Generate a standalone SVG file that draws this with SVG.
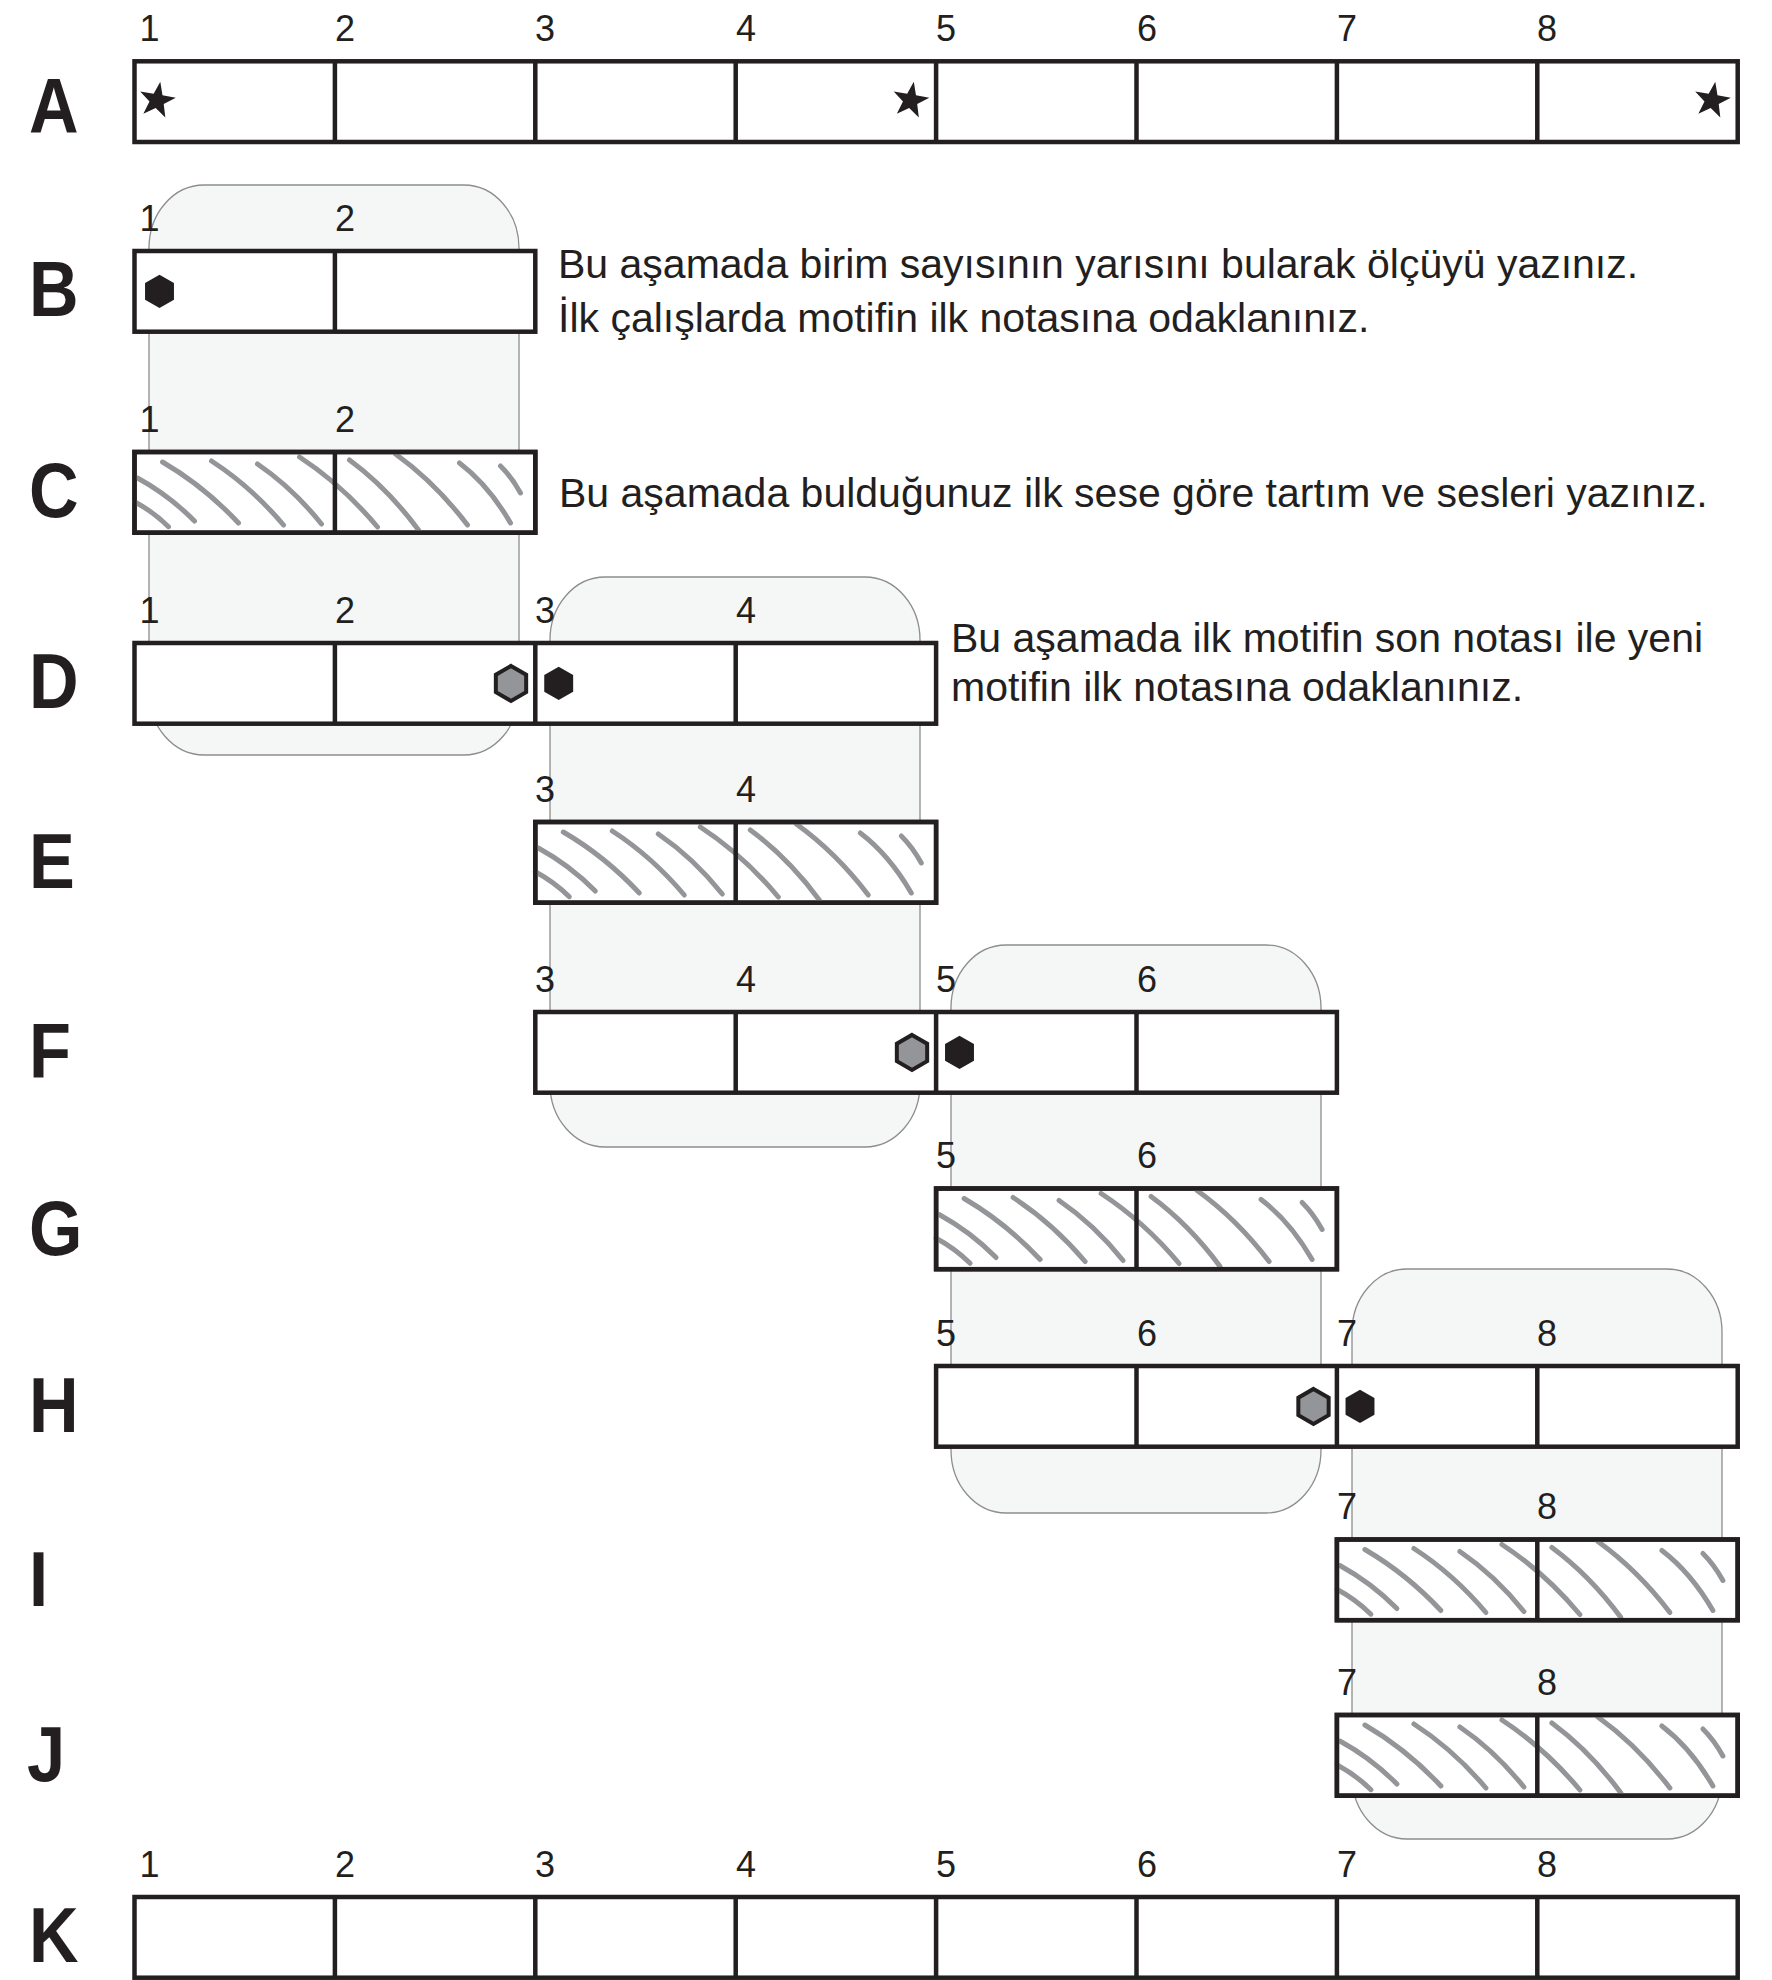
<svg xmlns="http://www.w3.org/2000/svg" width="1772" height="1980" viewBox="0 0 1772 1980">
<style>
.bar{fill:#ffffff;stroke:#231f20;stroke-width:4.5}
.div{stroke:#231f20;stroke-width:4.5}
.zone{fill:#f5f7f6;stroke:#8d8d8d;stroke-width:1.3}
.row{font-family:"Liberation Sans",Arial,sans-serif;font-weight:bold;font-size:78px;fill:#231f20}
.num{font-family:"Liberation Sans",Arial,sans-serif;font-size:36px;fill:#231f20}
.txt{font-family:"Liberation Sans",Arial,sans-serif;font-size:41px;fill:#231f20}
.hat{fill:none;stroke:#939598;stroke-width:5;stroke-linecap:round}
.hexb{fill:#231f20}
.hexg{fill:#939598;stroke:#231f20;stroke-width:4}
.star{fill:#231f20}
</style>
<defs>
<g id="hatch" class="hat">
<path d="M0 49.7 Q18.7 59.7 34 74.7"/>
<path d="M3 26 Q34.4 43.2 60 69"/>
<path d="M28 10 Q69.8 34.4 104 71"/>
<path d="M77 9 Q116.6 34.6 149 73"/>
<path d="M123 12 Q158.2 36 187 72"/>
<path d="M165 5 Q207.9 33 243 75"/>
<path d="M215 8 Q253 36 284 78"/>
<path d="M261 2 Q300.6 30.4 333 73"/>
<path d="M325 11 Q354 33 376 71"/>
<path d="M366 14 Q377 24.8 386 41"/>
</g>
<path id="star" class="star" d="M3.30 -18.71 L5.47 -5.28 L18.82 -2.64 L6.71 3.57 L8.33 17.08 L-1.32 7.48 L-13.67 13.20 L-7.53 1.06 L-16.78 -8.92 L-3.33 -6.83 Z"/>
<path id="hexb" class="hexb" d="M0 -16.7 L14.46 -8.35 L14.46 8.35 L0 16.7 L-14.46 8.35 L-14.46 -8.35 Z"/>
<path id="hexg" class="hexg" d="M0 -17.5 L15.16 -8.75 L15.16 8.75 L0 17.5 L-15.16 8.75 L-15.16 -8.75 Z"/>
</defs>
<rect width="1772" height="1980" fill="#ffffff"/>

<g id="zone-1-2"><rect class="zone" x="149" y="185" width="370" height="570" rx="55" ry="63"/></g>
<g id="zone-3-4"><rect class="zone" x="550" y="577" width="370" height="570" rx="55" ry="63"/></g>
<g id="zone-5-6"><rect class="zone" x="951" y="945" width="370" height="568" rx="55" ry="63"/></g>
<g id="zone-7-8"><rect class="zone" x="1352" y="1269" width="370" height="570" rx="55" ry="63"/></g>

<g id="connectors"></g>

<g id="row-A">
<text class="row" transform="translate(29 133) scale(0.88 1)">A</text>
<text class="num" x="139.5" y="41">1</text><text class="num" x="335" y="41">2</text><text class="num" x="535" y="41">3</text><text class="num" x="736" y="41">4</text><text class="num" x="936" y="41">5</text><text class="num" x="1137" y="41">6</text><text class="num" x="1337" y="41">7</text><text class="num" x="1537" y="41">8</text>
<rect class="bar" x="134.5" y="61.3" width="1603.2" height="80.7"/>
<path class="div" d="M334.9 61.3V142M535.3 61.3V142M735.7 61.3V142M936.1 61.3V142M1136.5 61.3V142M1336.9 61.3V142M1537.3 61.3V142"/>
<use href="#star" x="157" y="100.5"/>
<use href="#star" x="910.5" y="100.5"/>
<use href="#star" x="1712" y="100.5"/>
</g>

<g id="row-B">
<text class="row" transform="translate(29 316) scale(0.88 1)">B</text>
<text class="num" x="139.5" y="231">1</text><text class="num" x="335" y="231">2</text>
<rect class="bar" x="134.5" y="251" width="400.8" height="80.7"/>
<path class="div" d="M334.9 251V331.7"/>
<use href="#hexb" x="159.5" y="291.4"/>
<text class="txt" x="558" y="278">Bu aşamada birim sayısının yarısını bularak ölçüyü yazınız.</text>
<text class="txt" x="558" y="332">İlk çalışlarda motifin ilk notasına odaklanınız.</text>
</g>

<g id="row-C">
<text class="row" transform="translate(29 517) scale(0.88 1)">C</text>
<text class="num" x="139.5" y="432">1</text><text class="num" x="335" y="432">2</text>
<rect class="bar" x="134.5" y="452" width="400.8" height="80.7"/>
<use href="#hatch" x="134.5" y="452"/>
<path class="div" d="M334.9 452V532.7"/>
<rect x="134.5" y="452" width="400.8" height="80.7" fill="none" stroke="#231f20" stroke-width="4.5"/>
<text class="txt" x="559" y="507">Bu aşamada bulduğunuz ilk sese göre tartım ve sesleri yazınız.</text>
</g>

<g id="row-D">
<text class="row" transform="translate(29 708) scale(0.88 1)">D</text>
<text class="num" x="139.5" y="623">1</text><text class="num" x="335" y="623">2</text><text class="num" x="535" y="623">3</text><text class="num" x="736" y="623">4</text>
<rect class="bar" x="134.5" y="643" width="801.6" height="80.7"/>
<path class="div" d="M334.9 643V723.7M535.3 643V723.7M735.7 643V723.7"/>
<use href="#hexg" x="511" y="683.4"/>
<use href="#hexb" x="558.7" y="683.4"/>
<text class="txt" x="951" y="652">Bu aşamada ilk motifin son notası ile yeni</text>
<text class="txt" x="951" y="701">motifin ilk notasına odaklanınız.</text>
</g>

<g id="row-E">
<text class="row" transform="translate(29 888) scale(0.88 1)">E</text>
<text class="num" x="535" y="802">3</text><text class="num" x="736" y="802">4</text>
<rect class="bar" x="535.3" y="822" width="400.8" height="80.7"/>
<use href="#hatch" x="535.3" y="822"/>
<path class="div" d="M735.7 822V902.7"/>
<rect x="535.3" y="822" width="400.8" height="80.7" fill="none" stroke="#231f20" stroke-width="4.5"/>
</g>

<g id="row-F">
<text class="row" transform="translate(29 1078) scale(0.88 1)">F</text>
<text class="num" x="535" y="992">3</text><text class="num" x="736" y="992">4</text><text class="num" x="936" y="992">5</text><text class="num" x="1137" y="992">6</text>
<rect class="bar" x="535.3" y="1012" width="801.6" height="80.7"/>
<path class="div" d="M735.7 1012V1092.7M936.1 1012V1092.7M1136.5 1012V1092.7"/>
<use href="#hexg" x="912" y="1052.4"/>
<use href="#hexb" x="959.5" y="1052.4"/>
</g>

<g id="row-G">
<text class="row" transform="translate(29 1255) scale(0.88 1)">G</text>
<text class="num" x="936" y="1168">5</text><text class="num" x="1137" y="1168">6</text>
<rect class="bar" x="936.1" y="1188.5" width="400.8" height="80.7"/>
<use href="#hatch" x="936.1" y="1188.5"/>
<path class="div" d="M1136.5 1188.5V1269.2"/>
<rect x="936.1" y="1188.5" width="400.8" height="80.7" fill="none" stroke="#231f20" stroke-width="4.5"/>
</g>

<g id="row-H">
<text class="row" transform="translate(29 1432) scale(0.88 1)">H</text>
<text class="num" x="936" y="1346">5</text><text class="num" x="1137" y="1346">6</text><text class="num" x="1337" y="1346">7</text><text class="num" x="1537" y="1346">8</text>
<rect class="bar" x="936.1" y="1366" width="801.6" height="80.7"/>
<path class="div" d="M1136.5 1366V1446.7M1336.9 1366V1446.7M1537.3 1366V1446.7"/>
<use href="#hexg" x="1313.5" y="1406.4"/>
<use href="#hexb" x="1360" y="1406.4"/>
</g>

<g id="row-I">
<text class="row" transform="translate(29 1606) scale(0.88 1)">I</text>
<text class="num" x="1337" y="1519">7</text><text class="num" x="1537" y="1519">8</text>
<rect class="bar" x="1336.9" y="1539.5" width="400.8" height="80.7"/>
<use href="#hatch" x="1336.9" y="1539.5"/>
<path class="div" d="M1537.3 1539.5V1620.2"/>
<rect x="1336.9" y="1539.5" width="400.8" height="80.7" fill="none" stroke="#231f20" stroke-width="4.5"/>
</g>

<g id="row-J">
<text class="row" transform="translate(27 1781) scale(0.88 1)">J</text>
<text class="num" x="1337" y="1695">7</text><text class="num" x="1537" y="1695">8</text>
<rect class="bar" x="1336.9" y="1715" width="400.8" height="80.7"/>
<use href="#hatch" x="1336.9" y="1715"/>
<path class="div" d="M1537.3 1715V1795.7"/>
<rect x="1336.9" y="1715" width="400.8" height="80.7" fill="none" stroke="#231f20" stroke-width="4.5"/>
</g>

<g id="row-K">
<text class="row" transform="translate(29 1962) scale(0.88 1)">K</text>
<text class="num" x="139.5" y="1877">1</text><text class="num" x="335" y="1877">2</text><text class="num" x="535" y="1877">3</text><text class="num" x="736" y="1877">4</text><text class="num" x="936" y="1877">5</text><text class="num" x="1137" y="1877">6</text><text class="num" x="1337" y="1877">7</text><text class="num" x="1537" y="1877">8</text>
<rect class="bar" x="134.5" y="1897" width="1603.2" height="80.7"/>
<path class="div" d="M334.9 1897V1977.7M535.3 1897V1977.7M735.7 1897V1977.7M936.1 1897V1977.7M1136.5 1897V1977.7M1336.9 1897V1977.7M1537.3 1897V1977.7"/>
</g>
</svg>
